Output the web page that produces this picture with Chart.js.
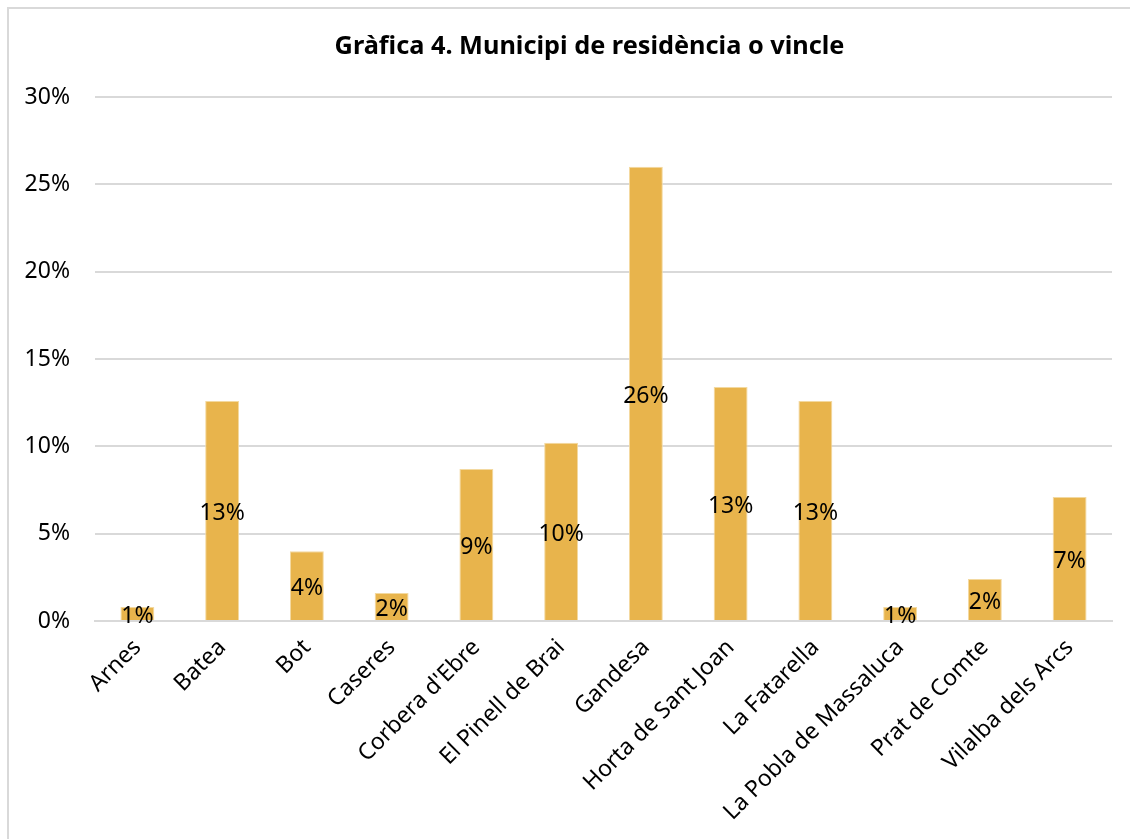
<!DOCTYPE html>
<html>
<head>
<meta charset="utf-8">
<script src="https://cdn.jsdelivr.net/npm/chart.js@4"></script>
<style>
  html, body { margin: 0; padding: 0; background: #fff; overflow: hidden; }
  #frame {
    position: absolute; left: 7px; top: 7px;
    width: 1140px; height: 850px;
    border: 2px solid #d9d9d9; box-sizing: border-box;
  }
  #wrap { position: absolute; left: 9px; top: 9px; width: 1121px; height: 830px; }
</style>
</head>
<body>
<div id="frame"></div>
<div id="wrap"><canvas id="chart"></canvas></div>
<script>
// Gràfica 4 — municipi de residència o vincle
const municipis = ['Arnes', 'Batea', 'Bot', 'Caseres', "Corbera d'Ebre", 'El Pinell de Brai', 'Gandesa',
  'Horta de Sant Joan', 'La Fatarella', 'La Pobla de Massaluca', 'Prat de Comte', 'Vilalba dels Arcs'];
const percentatges = [0.8, 12.6, 4.0, 1.6, 8.7, 10.2, 26.0, 13.4, 12.6, 0.8, 2.4, 7.1];
const ticksY = [0, 5, 10, 15, 20, 25, 30];
const titol = 'Gràfica 4. Municipi de residència o vincle';

const FONT = 'Noto Sans';
const GOLD = '#E8B44C';

// etiquetes de dades al centre de cada barra
const barLabels = {
  id: 'barLabels',
  afterDatasetsDraw(chart) {
    const ctx = chart.ctx;
    const meta = chart.getDatasetMeta(0);
    ctx.save();
    ctx.font = `23px "${FONT}"`;
    ctx.fillStyle = '#000';
    ctx.textAlign = 'center';
    ctx.textBaseline = 'middle';
    meta.data.forEach((bar, i) => {
      const y = (bar.y + bar.base) / 2 + 3;
      ctx.fillText(Math.round(percentatges[i]) + '%', bar.x, y);
    });
    ctx.restore();
  }
};

// títol dibuixat a mà: a l'original no està centrat sobre el canvas
const chartTitle = {
  id: 'chartTitle',
  afterDraw(chart) {
    const { ctx, chartArea } = chart;
    ctx.save();
    ctx.font = `bold 25.3px "${FONT}"`;
    ctx.fillStyle = '#000';
    ctx.textAlign = 'center';
    ctx.textBaseline = 'middle';
    ctx.fillText(titol, (chartArea.left + chartArea.right) / 2 - 14, 38);
    ctx.restore();
  }
};

new Chart(document.getElementById('chart'), {
  type: 'bar',
  data: {
    labels: municipis,
    datasets: [{
      data: percentatges,
      backgroundColor: GOLD,
      borderColor: '#f3d9a0',
      borderWidth: 1,
      barPercentage: 0.4,
      categoryPercentage: 1,
    }],
  },
  options: {
    responsive: true,
    maintainAspectRatio: false,
    animation: false,
    layout: { padding: { top: 88, right: 18, bottom: 0 } },
    scales: {
      x: {
        grid: { display: false, drawTicks: false },
        border: { color: '#d9d9d9', width: 2 },
        ticks: {
          color: '#000',
          font: { family: FONT, size: 23 },
          minRotation: 45, maxRotation: 45,
          padding: 13,
          autoSkip: false,
        },
        afterFit: (axis) => { axis.height = 218; },
      },
      y: {
        min: 0, max: 30,
        afterBuildTicks: (axis) => { axis.ticks = ticksY.map(v => ({ value: v })); },
        grid: { color: '#d9d9d9', lineWidth: 2, drawTicks: false },
        border: { display: false },
        ticks: {
          color: '#000',
          font: { family: FONT, size: 23 },
          padding: 25,
          callback: (v) => v + '%',
        },
        afterFit: (axis) => { axis.width = 86; },
      },
    },
    plugins: {
      legend: { display: false },
      tooltip: { enabled: false },
      title: { display: false },
    },
  },
  plugins: [barLabels, chartTitle],
});
</script>
</body>
</html>
